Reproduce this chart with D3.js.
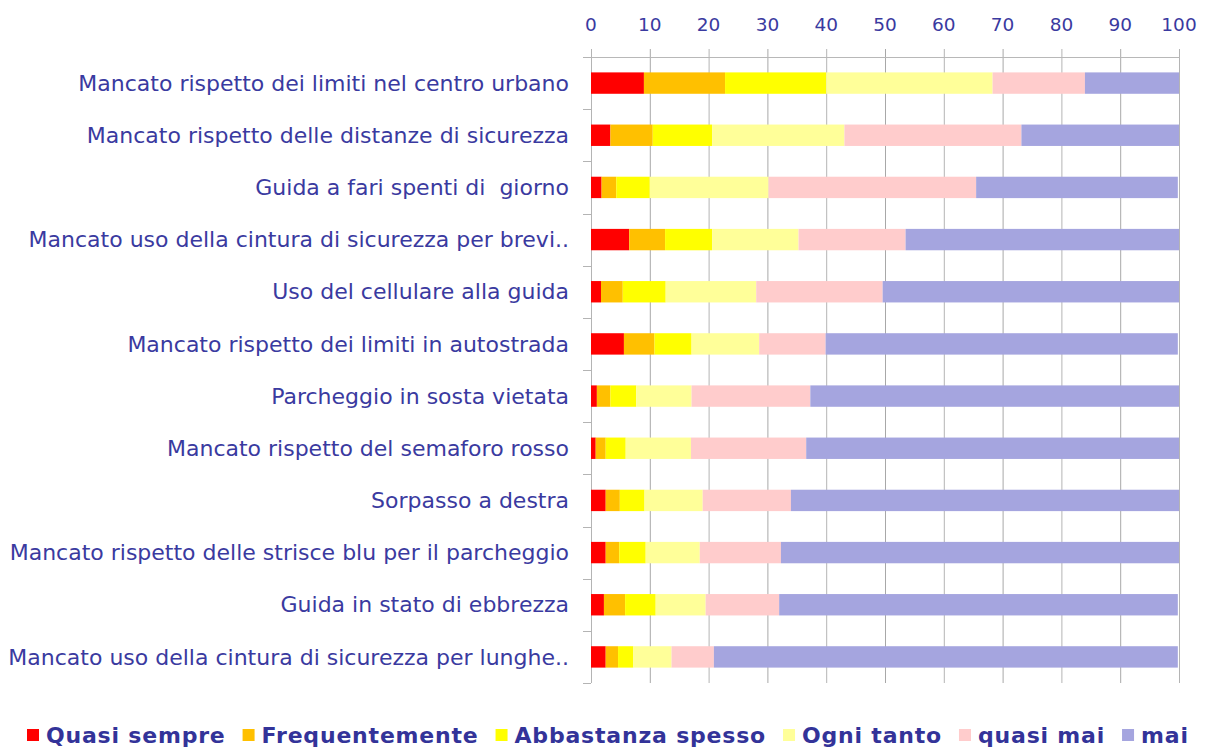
<!DOCTYPE html>
<html>
<head>
<meta charset="utf-8">
<script src="https://cdn.jsdelivr.net/npm/d3@7"></script>
<style>
  body { margin: 0; background: #fff; }
  svg { display: block; }
  text { fill: #333399; font-family: "DejaVu Sans", Verdana, sans-serif; }
</style>
</head>
<body>
<svg width="1210" height="749"></svg>
<script>
var categories = [
  "Mancato rispetto dei limiti nel centro urbano",
  "Mancato rispetto delle distanze di sicurezza",
  "Guida a fari spenti di  giorno",
  "Mancato uso della cintura di sicurezza per brevi..",
  "Uso del cellulare alla guida",
  "Mancato rispetto dei limiti in autostrada",
  "Parcheggio in sosta vietata",
  "Mancato rispetto del semaforo rosso",
  "Sorpasso a destra",
  "Mancato rispetto delle strisce blu per il parcheggio",
  "Guida in stato di ebbrezza",
  "Mancato uso della cintura di sicurezza per lunghe.."
];

var seriesNames = ["Quasi sempre", "Frequentemente", "Abbastanza spesso", "Ogni tanto", "quasi mai", "mai"];
var seriesColors = ["#ff0000", "#ffc000", "#ffff00", "#ffff99", "#ffcccc", "#a5a5df"];

// percentages per category, one array per answer
var quasiSempre    = [9.0, 3.3, 1.8, 6.5, 1.7, 5.6, 1.0, 0.8, 2.5, 2.5, 2.2, 2.5];
var frequentemente = [13.8, 7.2, 2.5, 6.1, 3.7, 5.2, 2.3, 1.7, 2.4, 2.3, 3.6, 2.1];
var abbastanza     = [17.2, 10.1, 5.7, 8.0, 7.3, 6.3, 4.4, 3.4, 4.2, 4.5, 5.2, 2.6];
var ogniTanto      = [28.3, 22.5, 20.2, 14.7, 15.4, 11.5, 9.4, 11.1, 9.9, 9.2, 8.5, 6.5];
var quasiMai       = [15.7, 30.1, 35.3, 18.2, 21.5, 11.3, 20.2, 19.6, 15.0, 13.8, 12.5, 7.2];
var mai            = [16.0, 26.8, 34.3, 46.5, 50.4, 59.9, 62.7, 63.4, 66.0, 67.7, 67.8, 78.9];

var xTicks = [0, 10, 20, 30, 40, 50, 60, 70, 80, 90, 100];

var svg = d3.select("svg");
var values = [quasiSempre, frequentemente, abbastanza, ogniTanto, quasiMai, mai];

var rows = categories.map(function(c, i) {
  var r = { cat: c };
  seriesNames.forEach(function(s, j) { r[s] = values[j][i]; });
  return r;
});

var x = d3.scaleLinear().domain([0, 100]).range([591, 1179]);
var y = d3.scaleBand().domain(categories).range([57, 683]).paddingInner(0.59).paddingOuter(0.295);
var step = y.step();

// grid lines
svg.append("g").selectAll("line")
  .data(xTicks)
  .enter().append("line")
    .attr("x1", function(d) { return x(d) + 0.5; })
    .attr("x2", function(d) { return x(d) + 0.5; })
    .attr("y1", 49)
    .attr("y2", 683)
    .attr("stroke", function(d, i) { return i % 2 ? "#a8a8a8" : "#b4b4b4"; })
    .attr("stroke-width", 1);

// top axis line
svg.append("line")
  .attr("x1", 583).attr("x2", x(100) + 1)
  .attr("y1", 57.5).attr("y2", 57.5)
  .attr("stroke", "#b8b8b8");

// category ticks on the left
svg.append("g").selectAll("line")
  .data(d3.range(categories.length + 1))
  .enter().append("line")
    .attr("x1", 583).attr("x2", 591)
    .attr("y1", function(i) { return Math.round(57 + i * step) + 0.5; })
    .attr("y2", function(i) { return Math.round(57 + i * step) + 0.5; })
    .attr("stroke", "#b4b4b4");

// tick labels on top
svg.append("g").selectAll("text")
  .data(xTicks)
  .enter().append("text")
    .attr("x", function(d) { return x(d); })
    .attr("y", 31)
    .attr("text-anchor", "middle")
    .style("font-size", "18.5px")
    .style("fill", "#3a3aa0")
    .text(function(d) { return d; });

// stacked bars
var stack = d3.stack().keys(seriesNames);
var layers = stack(rows);

svg.append("g").selectAll("g")
  .data(layers)
  .enter().append("g")
    .attr("fill", function(d, i) { return seriesColors[i]; })
  .selectAll("rect")
  .data(function(d) { return d; })
  .enter().append("rect")
    .attr("x", function(d) { return x(d[0]); })
    .attr("width", function(d) { return x(d[1]) - x(d[0]); })
    .attr("y", function(d) { return y(d.data.cat); })
    .attr("height", y.bandwidth());

// category labels
svg.append("g").selectAll("text")
  .data(categories)
  .enter().append("text")
    .attr("x", 569)
    .attr("y", function(d) { return y(d) + y.bandwidth() / 2; })
    .attr("dy", "0.35em")
    .attr("text-anchor", "end")
    .style("font-size", "22px")
    .style("fill", "#3a3aa0")
    .style("white-space", "pre")
    .text(function(d) { return d; });

// legend
var legend = svg.append("g");
var lx = 27;
seriesNames.forEach(function(s, i) {
  legend.append("rect")
    .attr("x", lx).attr("y", 729)
    .attr("width", 12).attr("height", 12)
    .attr("fill", seriesColors[i]);
  var t = legend.append("text")
    .attr("x", lx + 19)
    .attr("y", 743)
    .style("font-size", "22px")
    .style("font-weight", "bold")
    .style("letter-spacing", "0.8px")
    .text(s);
  lx = lx + 19 + t.node().getComputedTextLength() + 17;
});
</script>
</body>
</html>
